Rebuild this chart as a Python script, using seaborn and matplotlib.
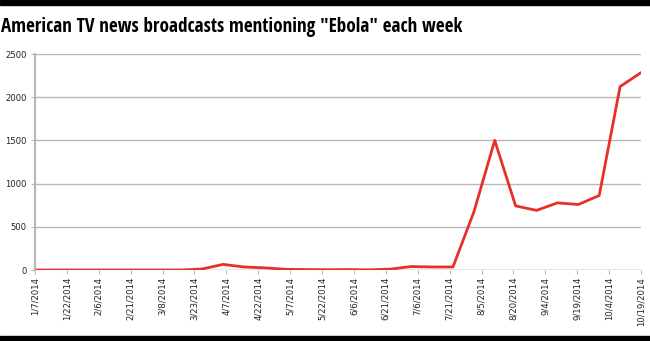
import matplotlib
matplotlib.use("Agg")
import matplotlib.pyplot as plt
from matplotlib.patches import Rectangle
import seaborn as sns
import pandas as pd

# ---- data ----
start_date = "2014-01-07"
end_date = "2014-10-19"
n_points = 30
mentions = [0, 0, 0, 0, 0, 0, 0, 0, 12, 65,
            35, 25, 8, 5, 3, 5, 2, 10, 40, 35,
            35, 670, 1500, 742, 690, 777, 758, 862, 2123, 2285]
tick_dates = pd.date_range(start_date, end_date, freq="15D")
tick_labels = [f"{d.month}/{d.day}/{d.year}" for d in tick_dates]
y_ticks = [0, 500, 1000, 1500, 2000, 2500]
title = "American TV news broadcasts mentioning \"Ebola\" each week"

dates = pd.date_range(start_date, end_date, periods=n_points)
df = pd.DataFrame({"date": dates, "mentions": mentions})

sns.set_theme(style="white")
W, H = 650, 341
fig = plt.figure(figsize=(W / 100, H / 100), dpi=100)
ax = fig.add_axes([35 / W, 71 / H, (641 - 35) / W, (270 - 54) / H])

sns.lineplot(data=df, x="date", y="mentions", ax=ax, color="#e8302a", linewidth=2.0)

ax.set_xlim(pd.Timestamp(start_date), pd.Timestamp(end_date))
ax.set_ylim(0, 2500)
ax.set_yticks(y_ticks)
ax.set_yticklabels([str(v) for v in y_ticks], fontsize=6.1, family="DejaVu Sans", color="#222222")
ax.set_xticks(tick_dates)
ax.set_xticklabels(tick_labels, rotation=90, fontsize=6.1, family="DejaVu Sans", color="#222222")
ax.set_xlabel("")
ax.set_ylabel("")

ax.grid(axis="y", color="#b8b8b8", linewidth=1.0)
ax.grid(axis="x", visible=False)
for s in ["top", "right", "bottom"]:
    ax.spines[s].set_visible(False)
ax.spines["left"].set_color("#b8b8b8")
ax.spines["left"].set_linewidth(1.6)
ax.tick_params(axis="x", length=3, color="#b8b8b8", width=0.8, pad=2, bottom=True)
ax.tick_params(axis="y", length=3, color="#b8b8b8", width=0.8, pad=3, left=True)
ax.axhline(0, color="#b8b8b8", linewidth=1.0, zorder=0)

# black bands at top and bottom
fig.patches.append(Rectangle((0, 1 - 5 / H), 1, 5 / H, transform=fig.transFigure, color="black", zorder=10))
fig.patches.append(Rectangle((0, 0), 1, 5 / H, transform=fig.transFigure, color="black", zorder=10))

fig.text(1 / W, 1 - 32 / H, title, fontsize=13.75, fontweight="bold",
         family=["Open Sans Condensed", "DejaVu Sans"], color="black", va="baseline")

fig.savefig("out.png", dpi=100)
